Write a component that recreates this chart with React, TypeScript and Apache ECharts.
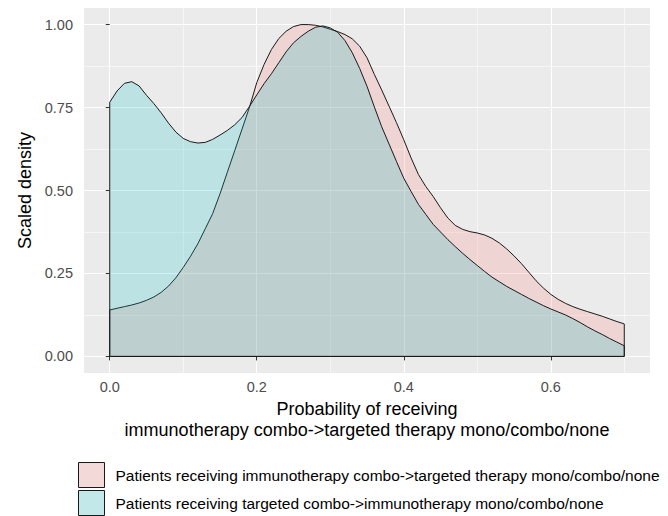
import React, { useEffect, useRef } from "react";
import * as echarts from "echarts";

const xValues = [
  0.00, 0.01, 0.02, 0.03, 0.04, 0.05, 0.06, 0.07, 0.08, 0.09,
  0.10, 0.11, 0.12, 0.13, 0.14, 0.15, 0.16, 0.17, 0.18, 0.19,
  0.20, 0.21, 0.22, 0.23, 0.24, 0.25, 0.26, 0.27, 0.28, 0.29,
  0.30, 0.31, 0.32, 0.33, 0.34, 0.35, 0.36, 0.37, 0.38, 0.39,
  0.40, 0.41, 0.42, 0.43, 0.44, 0.45, 0.46, 0.47, 0.48, 0.49,
  0.50, 0.51, 0.52, 0.53, 0.54, 0.55, 0.56, 0.57, 0.58, 0.59,
  0.60, 0.61, 0.62, 0.63, 0.64, 0.65, 0.66, 0.67, 0.68, 0.69,
  0.70,
];

// Patients receiving immunotherapy combo -> targeted therapy mono/combo/none
const immunoFirstDensity = [
  0.140, 0.145, 0.150, 0.155, 0.161, 0.169, 0.179, 0.193, 0.212, 0.237,
  0.268, 0.302, 0.340, 0.385, 0.430, 0.490, 0.555, 0.620, 0.685, 0.750,
  0.825, 0.880, 0.925, 0.958, 0.980, 0.994, 1.000, 1.000, 0.998, 0.993,
  0.986, 0.979, 0.970, 0.957, 0.935, 0.900, 0.850, 0.803, 0.754, 0.705,
  0.653, 0.598, 0.548, 0.512, 0.482, 0.448, 0.417, 0.395, 0.383, 0.376,
  0.372, 0.366, 0.356, 0.342, 0.324, 0.303, 0.280, 0.254, 0.228, 0.206,
  0.187, 0.172, 0.160, 0.150, 0.142, 0.135, 0.128, 0.121, 0.113, 0.105,
  0.098,
];

// Patients receiving targeted combo -> immunotherapy mono/combo/none
const targetedFirstDensity = [
  0.766, 0.800, 0.823, 0.828, 0.815, 0.787, 0.762, 0.734, 0.703, 0.676,
  0.657, 0.647, 0.643, 0.645, 0.654, 0.667, 0.681, 0.698, 0.720, 0.753,
  0.788, 0.822, 0.852, 0.885, 0.918, 0.945, 0.964, 0.980, 0.992, 0.996,
  0.990, 0.977, 0.952, 0.915, 0.868, 0.814, 0.752, 0.692, 0.640, 0.588,
  0.537, 0.497, 0.458, 0.428, 0.398, 0.375, 0.352, 0.331, 0.311, 0.292,
  0.274, 0.256, 0.239, 0.225, 0.211, 0.199, 0.187, 0.175, 0.164, 0.153,
  0.143, 0.134, 0.125, 0.114, 0.102, 0.089, 0.077, 0.066, 0.054, 0.043,
  0.032,
];

const xMajorTicks = [0, 0.2, 0.4, 0.6];
const xMinorTicks = [0.1, 0.3, 0.5, 0.7];
const yMajorTicks = [0, 0.25, 0.5, 0.75, 1];
const yMinorTicks = [0.125, 0.375, 0.625, 0.875];

const seriesNames = [
  "Patients receiving immunotherapy combo->targeted therapy mono/combo/none",
  "Patients receiving targeted combo->immunotherapy mono/combo/none",
];
const xTitle = "Probability of receiving\nimmunotherapy combo->targeted therapy mono/combo/none";
const yTitle = "Scaled density";

const FONT = "'Liberation Sans', Arial, sans-serif";

function polygonData(xs: number[], ys: number[]) {
  const pts: number[][] = [[xs[0], 0]];
  xs.forEach((x, i) => pts.push([x, ys[i]]));
  pts.push([xs[xs.length - 1], 0]);
  pts.push([xs[0], 0]);
  return pts;
}

export default function App() {
  const ref = useRef<HTMLDivElement>(null);
  useEffect(() => {
    if (!ref.current) return;
    const chart = echarts.init(ref.current, null, { renderer: "svg" });
    const gridLine = (w: number) => ({ show: true, lineStyle: { color: "#ffffff", width: w } });
    chart.setOption({
      animation: false,
      backgroundColor: "#ffffff",
      textStyle: { fontFamily: FONT },
      grid: {
        left: 84,
        top: 8,
        width: 566,
        height: 365,
        show: true,
        backgroundColor: "#EBEBEB",
        borderWidth: 0,
        containLabel: false,
        outerBoundsMode: "none",
      },
      legend: {
        orient: "vertical",
        left: 78,
        top: 462,
        padding: 0,
        itemWidth: 26,
        itemHeight: 25,
        itemGap: 2,
        icon: "rect",
        selectedMode: false,
        textStyle: { fontSize: 15.5, color: "#000", fontFamily: FONT, padding: [2, 0, 0, 6] },
        data: [
          {
            name: seriesNames[0],
            itemStyle: { color: "#F3D9D7", borderColor: "#1a1a1a", borderWidth: 1 },
          },
          {
            name: seriesNames[1],
            itemStyle: { color: "#C2E8E9", borderColor: "#1a1a1a", borderWidth: 1 },
          },
        ],
      },
      xAxis: [
        {
          type: "value",
          min: -0.035,
          max: 0.735,
          position: "bottom",
          axisLine: { show: false },
          axisTick: {
            show: true,
            length: 4,
            lineStyle: { color: "#333333", width: 1 },
            customValues: xMajorTicks,
          },
          axisLabel: {
            customValues: xMajorTicks,
            formatter: (v: number) => v.toFixed(1),
            color: "#4D4D4D",
            fontSize: 14.5,
            margin: 6,
            fontFamily: FONT,
          },
          splitLine: gridLine(1.1),
          name: xTitle,
          nameLocation: "middle",
          nameGap: 24,
          nameTextStyle: { fontSize: 18, color: "#000", lineHeight: 21, fontFamily: FONT },
        },
        {
          type: "value",
          min: -0.035,
          max: 0.735,
          position: "top",
          axisLine: { show: false },
          axisTick: { show: false, customValues: xMinorTicks },
          axisLabel: { show: false, customValues: xMinorTicks },
          splitLine: gridLine(0.55),
        },
      ],
      yAxis: [
        {
          type: "value",
          min: -0.05,
          max: 1.05,
          position: "left",
          axisLine: { show: false },
          axisTick: {
            show: true,
            length: 4,
            lineStyle: { color: "#333333", width: 1 },
            customValues: yMajorTicks,
          },
          axisLabel: {
            customValues: yMajorTicks,
            formatter: (v: number) => v.toFixed(2),
            color: "#4D4D4D",
            fontSize: 14.5,
            margin: 11,
            fontFamily: FONT,
          },
          splitLine: gridLine(1.1),
          name: yTitle,
          nameLocation: "middle",
          nameGap: 49,
          nameTextStyle: { fontSize: 18, color: "#000", fontFamily: FONT },
        },
        {
          type: "value",
          min: -0.05,
          max: 1.05,
          position: "right",
          axisLine: { show: false },
          axisTick: { show: false, customValues: yMinorTicks },
          axisLabel: { show: false, customValues: yMinorTicks },
          splitLine: gridLine(0.55),
        },
      ],
      series: [
        {
          name: seriesNames[0],
          type: "line",
          xAxisIndex: 0,
          yAxisIndex: 0,
          data: polygonData(xValues, immunoFirstDensity),
          symbol: "none",
          showSymbol: false,
          silent: true,
          z: 2,
          itemStyle: { color: "#F3D9D7" },
          lineStyle: { color: "#1a1a1a", width: 1 },
          areaStyle: { color: "rgba(248,118,109,0.2)", opacity: 1, origin: 0 },
        },
        {
          name: seriesNames[1],
          type: "line",
          xAxisIndex: 0,
          yAxisIndex: 0,
          data: polygonData(xValues, targetedFirstDensity),
          symbol: "none",
          showSymbol: false,
          silent: true,
          z: 3,
          itemStyle: { color: "#C2E8E9" },
          lineStyle: { color: "#1a1a1a", width: 1 },
          areaStyle: { color: "rgba(0,191,196,0.2)", opacity: 1, origin: 0 },
        },
      ],
    });
    return () => chart.dispose();
  }, []);
  return (
    <div
      ref={ref}
      style={{ position: "fixed", left: 0, top: 0, width: 668, height: 516 }}
    />
  );
}
